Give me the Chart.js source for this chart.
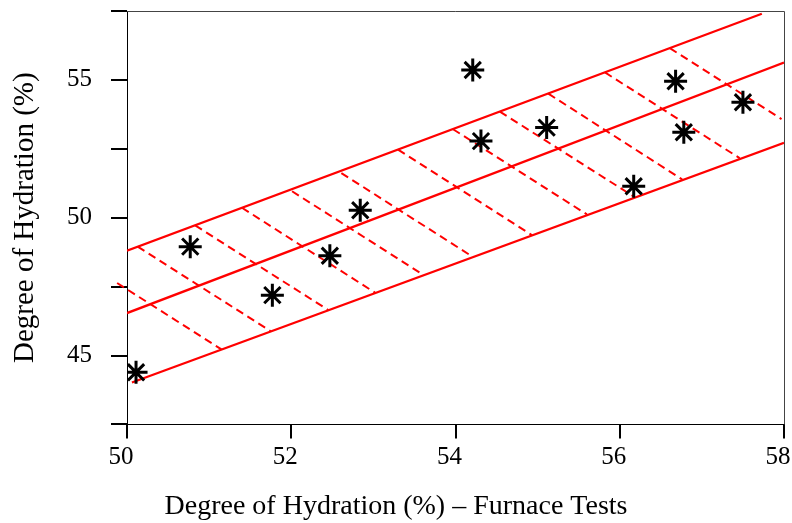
<!DOCTYPE html>
<html>
<head>
<meta charset="utf-8">
<script src="https://cdn.jsdelivr.net/npm/chart.js@4"></script>
<style>
  body { margin: 0; background: #fff; }
</style>
</head>
<body>
<canvas id="grafico" width="792" height="523"></canvas>
<script>
// Puntos medidos (asteriscos)
const pointX = [50.11, 50.77, 51.77, 52.47, 52.84, 54.21, 54.31, 55.11, 56.17, 56.68, 56.78, 57.50];
const pointY = [44.39, 48.95, 47.19, 48.62, 50.27, 55.36, 52.78, 53.27, 51.14, 54.95, 53.10, 54.19];

// Rectas: banda superior, ajuste central, banda inferior
const upperX = [50.0, 57.73];
const upperY = [48.80, 57.40];
const centerX = [50.0, 58.0];
const centerY = [46.54, 55.63];
const lowerX = [50.06, 58.0];
const lowerY = [44.02, 52.72];

// Lineas de trazos entre bandas (inicio arriba, fin abajo)
const hatchStartX = [49.88, 50.13, 50.83, 51.40, 52.01, 52.61, 53.30, 53.97, 54.54, 55.13, 55.82, 56.61];
const hatchStartY = [47.63, 48.95, 49.72, 50.36, 50.96, 51.62, 52.47, 53.21, 53.85, 54.50, 55.27, 56.15];
const hatchEndX = [51.15, 51.75, 52.45, 53.02, 53.61, 54.21, 54.93, 55.60, 56.18, 56.76, 57.46, 57.97];
const hatchEndY = [45.22, 45.88, 46.65, 47.28, 47.92, 48.58, 49.37, 50.12, 50.75, 51.39, 52.16, 53.58];

// Ejes
const xTicks = [50, 52, 54, 56, 58];
const yLabels = [45, 50, 55];

const xTitle = "Degree of Hydration (%) \u2013 Furnace Tests";
const yTitle = "Degree of Hydration (%)";

const RED = "#ff0000";

function toPoints(xs, ys) {
  return xs.map((x, i) => ({ x: x, y: ys[i] }));
}

const datasets = [];

// asteriscos primero para que queden encima
datasets.push({
  data: toPoints(pointX, pointY),
  pointStyle: "star",
  pointRadius: 11.5,
  pointBorderWidth: 3,
  pointBorderColor: "#000",
  pointBackgroundColor: "#000",
  showLine: false,
});

[[upperX, upperY], [centerX, centerY], [lowerX, lowerY]].forEach(([xs, ys]) => {
  datasets.push({
    data: toPoints(xs, ys),
    showLine: true,
    borderColor: RED,
    borderWidth: 2.3,
    pointRadius: 0,
  });
});

hatchStartX.forEach((x0, i) => {
  datasets.push({
    data: [{ x: x0, y: hatchStartY[i] }, { x: hatchEndX[i], y: hatchEndY[i] }],
    showLine: true,
    borderColor: RED,
    borderWidth: 2,
    borderDash: [8, 5],
    pointRadius: 0,
    clip: false,
  });
});

// marco superior y derecho
const marco = {
  id: "marco",
  afterDraw(chart) {
    const { ctx, chartArea: a } = chart;
    ctx.save();
    ctx.strokeStyle = "#444";
    ctx.lineWidth = 1;
    ctx.beginPath();
    ctx.moveTo(a.left, a.top + 0.5);
    ctx.lineTo(a.right + 0.5, a.top + 0.5);
    ctx.lineTo(a.right + 0.5, a.bottom);
    ctx.stroke();
    ctx.restore();
  },
};

Chart.defaults.font.family = "'Liberation Serif', 'Times New Roman', serif";
Chart.defaults.font.size = 25;
Chart.defaults.color = "#000";

new Chart(document.getElementById("grafico").getContext("2d"), {
  type: "scatter",
  data: { datasets: datasets },
  plugins: [marco],
  options: {
    responsive: false,
    animation: false,
    layout: { autoPadding: false, padding: { top: 11, right: 8, left: 8, bottom: 0 } },
    plugins: {
      legend: { display: false },
      tooltip: { enabled: false },
      title: {
        display: true,
        text: xTitle,
        position: "bottom",
        color: "#000",
        font: { size: 28, weight: "normal" },
        padding: { top: 0, bottom: 0 },
      },
    },
    scales: {
      x: {
        type: "linear",
        min: 50,
        max: 58,
        afterBuildTicks: (scale) => {
          scale.ticks = xTicks.map((v) => ({ value: v }));
        },
        ticks: { padding: 4, labelOffset: -6, callback: (v) => v },
        grid: { drawOnChartArea: false, drawTicks: true, tickLength: 14, color: "#000", lineWidth: 2 },
        border: { display: true, color: "#000", width: 1 },
        afterFit: (scale) => {
          scale.paddingLeft = 0;
          scale.paddingRight = 0;
          scale.height = 65;
        },
      },
      y: {
        type: "linear",
        min: 42.5,
        max: 57.5,
        ticks: {
          stepSize: 2.5,
          padding: 19,
          callback: (v) => (yLabels.includes(v) ? v : ""),
        },
        grid: { drawOnChartArea: false, drawTicks: true, tickLength: 16, color: "#000", lineWidth: 2 },
        border: { display: true, color: "#000", width: 1 },
        title: { display: true, text: yTitle, font: { size: 29 }, padding: { top: 0, bottom: 0 } },
        afterFit: (scale) => {
          scale.paddingTop = 0;
          scale.paddingBottom = 0;
          scale.width = 119;
        },
      },
    },
  },
});
</script>
</body>
</html>
